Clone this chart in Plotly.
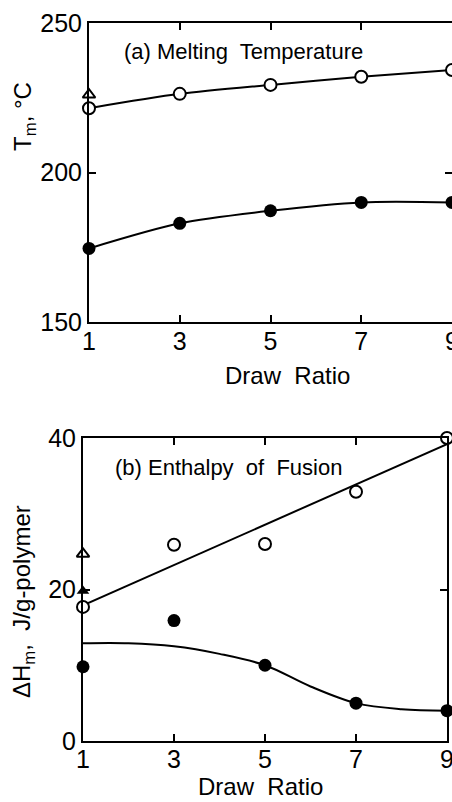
import plotly.graph_objects as go

# ---- data ----
draw_ratio = [1, 3, 5, 7, 9]

# (a) Melting temperature
tm_open = [221.5, 226.3, 229.3, 232.0, 234.3]
tm_filled = [174.6, 183.0, 187.2, 190.0, 190.0]
tm_triangle_x = [1]
tm_triangle_open = [226.0]

# (b) Enthalpy of fusion
dh_open = [17.7, 25.9, 26.0, 32.9, 40.0]
dh_filled = [9.8, 15.9, 10.0, 5.0, 4.0]
dh_triangle_x = [1]
dh_triangle_open = [24.7]
dh_triangle_filled = [19.8]

# fitted guide curves
dh_open_fit_x = [1, 9]
dh_open_fit_y = [17.9, 39.2]
dh_filled_fit_x = [1, 2, 3, 4, 5, 6, 7, 8, 9]
dh_filled_fit_y = [12.9, 12.9, 12.5, 11.5, 10.0, 7.2, 5.0, 4.2, 4.0]

x_ticks = [1, 3, 5, 7, 9]
tm_ticks = [150, 200, 250]
dh_ticks = [0, 20, 40]

W, H = 452, 802
FONT = "Liberation Sans"
BLACK = "#000000"


def px_x(p):
    return p / W


def px_y(p):
    return 1 - p / H


fig = go.Figure()

# ---- top panel ----
fig.add_trace(go.Scatter(x=draw_ratio, y=tm_open, mode="lines",
                         line=dict(color=BLACK, width=2, shape="spline", smoothing=0.8),
                         xaxis="x", yaxis="y", showlegend=False, hoverinfo="skip"))
fig.add_trace(go.Scatter(x=draw_ratio, y=tm_filled, mode="lines",
                         line=dict(color=BLACK, width=2, shape="spline", smoothing=0.8),
                         xaxis="x", yaxis="y", showlegend=False, hoverinfo="skip"))
fig.add_trace(go.Scatter(x=draw_ratio, y=tm_open, mode="markers", cliponaxis=False,
                         marker=dict(symbol="circle", size=12, color="white", line=dict(color=BLACK, width=2)),
                         xaxis="x", yaxis="y", showlegend=False))
fig.add_trace(go.Scatter(x=draw_ratio, y=tm_filled, mode="markers", cliponaxis=False,
                         marker=dict(symbol="circle", size=13, color=BLACK),
                         xaxis="x", yaxis="y", showlegend=False))
fig.add_trace(go.Scatter(x=tm_triangle_x, y=tm_triangle_open, mode="markers", cliponaxis=False,
                         marker=dict(symbol="triangle-up", size=11, color="white", line=dict(color=BLACK, width=2)),
                         xaxis="x", yaxis="y", showlegend=False))

# ---- bottom panel ----
fig.add_trace(go.Scatter(x=dh_open_fit_x, y=dh_open_fit_y, mode="lines", line=dict(color=BLACK, width=2),
                         xaxis="x2", yaxis="y2", showlegend=False, hoverinfo="skip"))
fig.add_trace(go.Scatter(x=dh_filled_fit_x, y=dh_filled_fit_y, mode="lines",
                         line=dict(color=BLACK, width=2, shape="spline"),
                         xaxis="x2", yaxis="y2", showlegend=False, hoverinfo="skip"))
fig.add_trace(go.Scatter(x=draw_ratio, y=dh_open, mode="markers", cliponaxis=False,
                         marker=dict(symbol="circle", size=12, color="white", line=dict(color=BLACK, width=2)),
                         xaxis="x2", yaxis="y2", showlegend=False))
fig.add_trace(go.Scatter(x=draw_ratio, y=dh_filled, mode="markers", cliponaxis=False,
                         marker=dict(symbol="circle", size=13, color=BLACK),
                         xaxis="x2", yaxis="y2", showlegend=False))
fig.add_trace(go.Scatter(x=dh_triangle_x, y=dh_triangle_open, mode="markers", cliponaxis=False,
                         marker=dict(symbol="triangle-up", size=11, color="white", line=dict(color=BLACK, width=2)),
                         xaxis="x2", yaxis="y2", showlegend=False))
fig.add_trace(go.Scatter(x=dh_triangle_x, y=dh_triangle_filled, mode="markers", cliponaxis=False,
                         marker=dict(symbol="triangle-up", size=11, color=BLACK),
                         xaxis="x2", yaxis="y2", showlegend=False))

axis_common = dict(
    showline=True, linecolor=BLACK, linewidth=2, mirror="ticks",
    ticks="inside", ticklen=7, tickwidth=1.5, tickcolor=BLACK,
    showgrid=False, zeroline=False,
    tickfont=dict(family=FONT, size=25, color=BLACK),
    ticklabeloverflow="allow",
)

fig.update_layout(
    width=W, height=H,
    margin=dict(l=0, r=0, t=0, b=0, autoexpand=False),
    paper_bgcolor="white", plot_bgcolor="white",
    xaxis=dict(domain=[px_x(89), 1.0], range=[1, 9], tickvals=x_ticks, anchor="y",
               ticklabelstandoff=-4, **axis_common),
    yaxis=dict(domain=[px_y(322), px_y(23)], range=[150, 250], tickvals=tm_ticks, anchor="x", **axis_common),
    xaxis2=dict(domain=[px_x(83), px_x(447)], range=[1, 9], tickvals=x_ticks, anchor="y2",
                ticklabelstandoff=-5, **axis_common),
    yaxis2=dict(domain=[px_y(741), px_y(438)], range=[0, 40], tickvals=dh_ticks, anchor="x2", **axis_common),
)

ann_font = dict(family=FONT, size=24, color=BLACK)
label_font = dict(family=FONT, size=22, color=BLACK)
annotations = [
    dict(text="Draw  Ratio", x=px_x(287), y=px_y(375), font=ann_font, yanchor="middle"),
    dict(text="Draw  Ratio", x=px_x(260), y=0.0, font=ann_font, yanchor="bottom"),
    dict(text="T<sub>m</sub>, °C", x=px_x(25), y=px_y(117), font=ann_font, textangle=-90, yanchor="middle"),
    dict(text="ΔH<sub>m</sub>,  J/g-polymer", x=px_x(23), y=px_y(602), font=ann_font, textangle=-90,
         yanchor="middle"),
    dict(text="(a) Melting  Temperature", x=px_x(243), y=px_y(52), font=label_font, yanchor="middle"),
    dict(text="(b) Enthalpy  of  Fusion", x=px_x(229), y=px_y(468), font=label_font, yanchor="middle"),
]
for a in annotations:
    fig.add_annotation(xref="paper", yref="paper", showarrow=False, xanchor="center", **a)

fig.write_html("out.html", config={"displayModeBar": False},
               post_script="document.body.style.margin='0';document.body.style.overflow='hidden';")
